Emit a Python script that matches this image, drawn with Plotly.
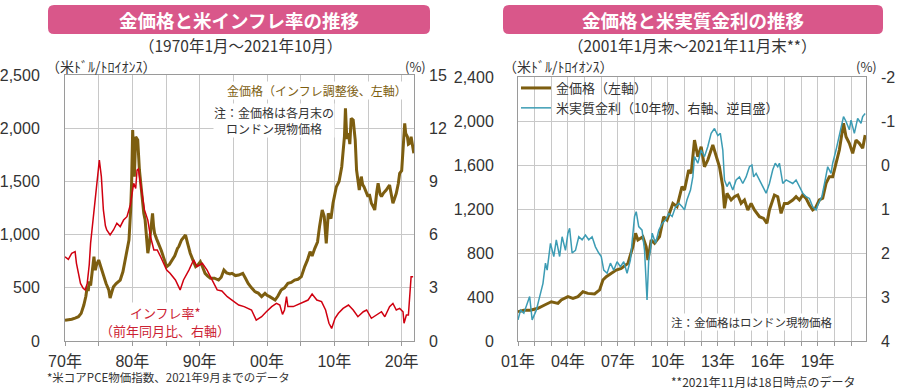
import plotly.graph_objects as go

W, H = 900, 390

# ---------------- Left panel data ----------------
gold_real_year = [
    1970.0, 1970.5, 1971.0, 1971.5, 1972.0, 1972.4, 1972.8, 1973.1, 1973.3, 1973.45,
    1973.6, 1973.8, 1974.0, 1974.3, 1974.5, 1974.7, 1975.0, 1975.3, 1975.5, 1975.8,
    1976.1, 1976.5, 1976.7, 1977.0, 1977.2, 1977.6, 1978.2, 1978.6, 1978.9, 1979.3,
    1979.5, 1979.75, 1979.9, 1980.05, 1980.15, 1980.3, 1980.5, 1980.8, 1981.05, 1981.4,
    1981.7, 1981.9, 1982.3, 1982.5, 1982.7, 1982.9, 1983.0, 1983.15, 1983.3, 1983.6,
    1983.9, 1984.3, 1984.6, 1985.1, 1985.5, 1985.9, 1986.3, 1986.7, 1986.9, 1987.3,
    1987.9, 1988.2, 1988.6, 1989.0, 1989.4, 1989.8, 1990.1, 1990.4, 1990.8, 1991.2,
    1991.6, 1992.2, 1992.8, 1993.2, 1993.6, 1994.0, 1994.5, 1994.8, 1995.3, 1995.8,
    1996.2, 1996.4, 1996.8, 1997.2, 1997.7, 1998.2, 1998.7, 1999.2, 1999.7, 2000.0,
    2000.4, 2000.8, 2001.2, 2001.6, 2002.1, 2002.6, 2003.1, 2003.6, 2004.1, 2004.6,
    2005.1, 2005.6, 2006.0, 2006.4, 2006.7, 2007.1, 2007.5, 2007.8, 2008.2, 2008.5,
    2008.8, 2009.1, 2009.5, 2009.8, 2010.3, 2010.7, 2011.1, 2011.5, 2011.65, 2011.85,
    2012.1, 2012.3, 2012.5, 2012.8, 2013.1, 2013.3, 2013.5, 2013.7, 2014.0, 2014.2,
    2014.4, 2014.7, 2015.0, 2015.2, 2015.5, 2015.8, 2016.0, 2016.3, 2016.5, 2016.8,
    2017.0, 2017.3, 2017.7, 2018.2, 2018.5, 2018.7, 2018.9, 2019.2, 2019.5, 2019.7,
    2020.0, 2020.2, 2020.45, 2020.6, 2020.85, 2021.0, 2021.2, 2021.4, 2021.6, 2021.8,
]
gold_real_usd = [
    195, 198, 205, 215, 228, 260, 338, 420, 510, 470,
    560, 520, 640, 793, 667, 720, 761, 700, 667, 600,
    540, 480, 404, 470, 510, 540, 573, 650, 761, 880,
    949, 1231, 1500, 1983, 1700, 1545, 1920, 1889, 1607, 1357,
    1200, 1137, 825, 900, 1043, 1120, 1200, 1080, 1012, 960,
    918, 850, 793, 699, 720, 761, 800, 870, 887, 950,
    996, 920, 825, 760, 699, 720, 745, 700, 636, 610,
    589, 590, 573, 600, 667, 640, 630, 636, 615, 620,
    630, 636, 590, 542, 500, 464, 450, 417, 448, 430,
    417, 400, 385, 420, 480, 500, 542, 550, 573, 580,
    605, 699, 760, 840, 800, 871, 930, 1075, 1231, 1169,
    918, 1200, 1150, 1294, 1450, 1500, 1638, 1920, 2187, 1900,
    1952, 1850, 2093, 2077, 1889, 1607, 1500, 1419, 1545, 1470,
    1450, 1400, 1357, 1380, 1294, 1260, 1231, 1400, 1482, 1380,
    1357, 1390, 1419, 1466, 1380, 1294, 1330, 1388, 1480, 1576,
    1600, 1795, 2046, 1950, 1920, 1850, 1858, 1920, 1820, 1764,
]

infl_year = [
    1970.0, 1970.5, 1971.0, 1971.5, 1971.7, 1972.0, 1972.3, 1972.7, 1973.0, 1973.3,
    1973.6, 1973.8, 1974.3, 1974.75, 1975.1, 1975.4, 1975.7, 1976.0, 1976.2, 1976.7,
    1977.2, 1977.7, 1978.2, 1978.7, 1979.2, 1979.7, 1980.2, 1980.5, 1980.7, 1980.9,
    1981.3, 1981.8, 1982.3, 1982.7, 1983.2, 1983.7, 1984.2, 1984.6, 1985.1, 1985.6,
    1986.4, 1987.1, 1987.6, 1988.4, 1989.1, 1989.6, 1990.4, 1991.1, 1991.8, 1992.6,
    1993.3, 1994.1, 1994.8, 1995.8, 1996.6, 1997.7, 1998.4, 1999.2, 1999.9, 2000.7,
    2001.4, 2001.9, 2002.3, 2002.6, 2002.9, 2003.1, 2003.9, 2005.1, 2006.1, 2006.7,
    2007.4, 2008.1, 2008.7, 2009.2, 2009.6, 2010.1, 2010.6, 2011.3, 2012.1, 2012.8,
    2013.5, 2014.3, 2014.8, 2015.5, 2016.25, 2017.0, 2017.5, 2018.2, 2018.7, 2019.2,
    2019.7, 2020.2, 2020.35, 2020.7, 2021.0, 2021.25, 2021.4, 2021.7,
]
infl_pct = [
    4.75, 4.6, 4.95, 5.04, 4.38, 3.8, 3.25, 2.97, 2.88, 3.25,
    4.3, 5.51, 7.39, 9.27, 10.2, 9.27, 7.39, 6.5, 6.26, 5.98,
    6.26, 6.64, 6.45, 6.82, 7.01, 7.67, 8.89, 8.6, 9.64, 9.7,
    8.7, 7.39, 6.82, 5.88, 5.13, 5.13, 4.75, 4.38, 4.0, 3.82,
    3.44, 2.88, 3.44, 4.0, 4.57, 4.19, 4.38, 4.0, 3.44, 2.88,
    2.82, 2.5, 2.31, 2.03, 1.94, 1.75, 1.18, 1.37, 1.65, 1.94,
    2.12, 2.03, 1.5, 1.75, 2.5, 1.94, 1.94, 2.12, 2.31, 2.65,
    2.31, 2.22, 1.75, 1.0, 0.71, 1.28, 1.56, 1.84, 2.03, 1.75,
    1.37, 1.65, 1.75, 1.28, 1.47, 1.65, 1.37, 1.94, 2.12, 1.75,
    1.84, 1.65, 1.0, 1.47, 1.47, 3.25, 3.63, 3.63,
]

# ---------------- Right panel data ----------------
gold_year = [
    2001.0, 2001.35, 2001.75, 2002.2, 2002.6, 2003.0, 2003.4, 2003.6, 2004.0, 2004.3,
    2004.6, 2004.9, 2005.2, 2005.6, 2005.9, 2006.1, 2006.3, 2006.6, 2006.9, 2007.2,
    2007.6, 2007.9, 2008.06, 2008.2, 2008.5, 2008.7, 2008.8, 2009.0, 2009.2, 2009.5,
    2009.75, 2009.95, 2010.3, 2010.55, 2010.85, 2011.0, 2011.25, 2011.4, 2011.6, 2011.8,
    2012.0, 2012.2, 2012.4, 2012.7, 2012.9, 2013.1, 2013.3, 2013.4, 2013.55, 2013.8,
    2014.0, 2014.2, 2014.4, 2014.6, 2014.8, 2015.0, 2015.2, 2015.5, 2015.75, 2015.95,
    2016.1, 2016.4, 2016.6, 2016.8, 2017.0, 2017.2, 2017.5, 2017.7, 2017.9, 2018.1,
    2018.3, 2018.5, 2018.7, 2018.85, 2019.1, 2019.3, 2019.5, 2019.7, 2019.9, 2020.1,
    2020.3, 2020.55, 2020.7, 2020.9, 2021.1, 2021.3, 2021.5, 2021.7, 2021.85,
]
gold_usd = [
    266, 280, 280, 297, 327, 357, 342, 373, 403, 388,
    403, 448, 433, 427, 464, 555, 585, 615, 645, 660,
    706, 857, 979, 918, 948, 857, 736, 918, 888, 948,
    1130, 1100, 1251, 1221, 1403, 1373, 1554, 1524, 1827, 1675,
    1766, 1584, 1645, 1782, 1675, 1584, 1403, 1206, 1342, 1282,
    1312, 1327, 1251, 1282, 1191, 1251, 1191, 1130, 1115, 1070,
    1191, 1327, 1312, 1160, 1251, 1251, 1282, 1312, 1282, 1327,
    1297, 1236, 1191, 1206, 1282, 1297, 1433, 1494, 1494, 1615,
    1736, 1979, 1857, 1797, 1706, 1827, 1797, 1752, 1873,
]

rate_year = [
    2001.0, 2001.15, 2001.35, 2001.55, 2001.7, 2001.85, 2002.1, 2002.25, 2002.5, 2002.65,
    2002.75, 2002.95, 2003.15, 2003.3, 2003.5, 2003.65, 2003.85, 2004.0, 2004.1, 2004.25,
    2004.45, 2004.65, 2004.85, 2005.05, 2005.25, 2005.45, 2005.65, 2005.85, 2006.0, 2006.15,
    2006.35, 2006.55, 2006.75, 2006.95, 2007.15, 2007.35, 2007.55, 2007.75, 2007.85, 2008.0,
    2008.1, 2008.25, 2008.45, 2008.6, 2008.75, 2008.85, 2008.95, 2009.06, 2009.26, 2009.46,
    2009.66, 2009.86, 2010.06, 2010.26, 2010.46, 2010.66, 2010.86, 2011.0, 2011.15, 2011.36,
    2011.5, 2011.6, 2011.8, 2012.0, 2012.2, 2012.4, 2012.6, 2012.8, 2013.0, 2013.15,
    2013.3, 2013.4, 2013.55, 2013.7, 2013.9, 2014.1, 2014.3, 2014.5, 2014.7, 2014.9,
    2015.05, 2015.15, 2015.3, 2015.5, 2015.7, 2015.9, 2016.1, 2016.3, 2016.45, 2016.6,
    2016.7, 2016.9, 2017.1, 2017.3, 2017.5, 2017.7, 2017.9, 2018.1, 2018.3, 2018.5,
    2018.7, 2018.9, 2019.05, 2019.25, 2019.45, 2019.6, 2019.8, 2019.9, 2020.1, 2020.3,
    2020.45, 2020.55, 2020.7, 2020.9, 2021.0, 2021.2, 2021.4, 2021.6, 2021.7, 2021.85,
]
rate_pct = [
    3.52, 3.3, 3.37, 3.14, 2.99, 3.52, 3.3, 3.07, 2.69, 2.23,
    2.39, 1.78, 2.08, 1.7, 2.08, 1.63, 1.94, 1.55, 1.44, 2.0,
    1.94, 1.63, 1.7, 1.59, 1.7, 1.63, 1.86, 2.0, 2.08, 2.39,
    2.46, 2.23, 2.39, 2.2, 2.31, 2.2, 2.46, 2.16, 1.78, 1.17,
    1.06, 1.4, 1.48, 1.94, 3.07, 2.16, 1.94, 1.55, 1.78, 1.48,
    1.33, 1.25, 1.1, 1.17, 0.95, 0.87, 0.95, 1.02, 0.79, 0.57,
    0.27, -0.19, -0.04, -0.34, -0.19, -0.42, -0.72, -0.83, -0.67, -0.72,
    -0.34, 0.34, 0.49, 0.38, 0.57, 0.34, 0.27, 0.42, 0.27, 0.04,
    0.0, 0.27, 0.19, 0.34, 0.49, 0.64, 0.42, 0.11, -0.04, 0.04,
    -0.04, 0.42, 0.34, 0.38, 0.42, 0.34, 0.49, 0.64, 0.72, 0.76,
    0.95, 1.02, 0.87, 0.72, 0.34, 0.04, 0.19, -0.04, -0.34, -0.65,
    -0.95, -1.1, -0.99, -0.8, -1.02, -0.72, -1.06, -0.95, -1.1, -1.17,
]

# ---------------- Tick labels ----------------
left_xtick_vals = [1970, 1975, 1980, 1985, 1990, 1995, 2000, 2005, 2010, 2015, 2020]
left_xtick_text = ["70年", "", "80年", "", "90年", "", "00年", "", "10年", "", "20年"]
right_xtick_vals = list(range(2001, 2022))
right_xtick_text = ["01年", "", "", "04年", "", "", "07年", "", "", "10年", "", "",
                    "13年", "", "", "16年", "", "", "19年", "", ""]
rate_tick_vals = [-2, -1, 0, 1, 2, 3, 4]
rate_tick_text = ["-2", "-1", "0", "1", "2", "3", "4"]

# ---------------- Styles ----------------
GOLD = "#7D5E10"
RED = "#D00010"
RED_TXT = "#CC2233"
TEAL = "#3C9CB4"
PINK = "#D9578A"
GRID = "#C8C8C8"
AXLINE = "#9A9A9A"
TXT = "#333333"
JP = "Noto Sans CJK JP"
NUM = "Liberation Sans, Noto Sans CJK JP"


def X(px):
    return px / W


def Y(py):
    return 1 - py / H


def rrect(x0, y0, x1, y1, r):
    return (f"M {X(x0 + r)},{Y(y0)} L {X(x1 - r)},{Y(y0)} "
            f"Q {X(x1)},{Y(y0)} {X(x1)},{Y(y0 + r)} L {X(x1)},{Y(y1 - r)} "
            f"Q {X(x1)},{Y(y1)} {X(x1 - r)},{Y(y1)} L {X(x0 + r)},{Y(y1)} "
            f"Q {X(x0)},{Y(y1)} {X(x0)},{Y(y1 - r)} L {X(x0)},{Y(y0 + r)} "
            f"Q {X(x0)},{Y(y0)} {X(x0 + r)},{Y(y0)} Z")


fig = go.Figure()

fig.add_trace(go.Scatter(x=gold_real_year, y=gold_real_usd, xaxis="x", yaxis="y",
                         mode="lines", line=dict(color=GOLD, width=3),
                         showlegend=False, name="金価格（インフレ調整後）"))
fig.add_trace(go.Scatter(x=infl_year, y=infl_pct, xaxis="x", yaxis="y2",
                         mode="lines", line=dict(color=RED, width=1.5),
                         showlegend=False, name="インフレ率"))
fig.add_trace(go.Scatter(x=gold_year, y=gold_usd, xaxis="x2", yaxis="y3",
                         mode="lines", line=dict(color=GOLD, width=3),
                         name="金価格（左軸）"))
fig.add_trace(go.Scatter(x=rate_year, y=rate_pct, xaxis="x2", yaxis="y4",
                         mode="lines", line=dict(color=TEAL, width=1.5),
                         name="米実質金利（10年物、右軸、逆目盛）"))

common_x = dict(showgrid=True, gridcolor=GRID, gridwidth=1, ticks="outside", ticklen=4,
                tickcolor=AXLINE, showline=True, linecolor=AXLINE, linewidth=1, mirror=True,
                zeroline=False, tickfont=dict(family=NUM, size=16, color=TXT),
                ticklabelstandoff=2)
common_y = dict(showgrid=True, gridcolor=GRID, gridwidth=1, ticks="", showline=True,
                linecolor=AXLINE, linewidth=1, mirror=True, zeroline=False,
                tickfont=dict(family=NUM, size=16, color=TXT), tickformat=",")

fig.update_layout(
    width=W, height=H, margin=dict(l=0, r=0, t=0, b=0, pad=0, autoexpand=False),
    paper_bgcolor="white", plot_bgcolor="white",
    font=dict(family=JP, color=TXT),
    xaxis=dict(domain=[X(65), X(414)], range=[1970, 2021.83], tickvals=left_xtick_vals,
               ticktext=left_xtick_text, anchor="y", **common_x),
    yaxis=dict(domain=[Y(341), Y(75)], range=[0, 2500], dtick=500, anchor="x",
               ticklabelstandoff=21, **common_y),
    yaxis2=dict(overlaying="y", side="right", anchor="x", range=[0, 15], dtick=3,
                showgrid=False, ticks="", zeroline=False, showline=False,
                ticklabelstandoff=14, tickfont=dict(family=NUM, size=16, color=TXT)),
    xaxis2=dict(domain=[X(518), X(866)], range=[2001, 2021.9], tickvals=right_xtick_vals,
                ticktext=right_xtick_text, anchor="y3", **common_x),
    yaxis3=dict(domain=[Y(341), Y(77)], range=[0, 2400], dtick=400, anchor="x2",
                ticklabelstandoff=20, **common_y),
    yaxis4=dict(overlaying="y3", side="right", anchor="x2", range=[4, -2],
                tickvals=rate_tick_vals, ticktext=rate_tick_text,
                showgrid=False, ticks="", zeroline=False, showline=False,
                ticklabelstandoff=14, tickfont=dict(family=NUM, size=16, color=TXT)),
    legend=dict(x=X(516), y=Y(73), xanchor="left", yanchor="top",
                bgcolor="rgba(0,0,0,0)",
                borderwidth=0, font=dict(family=JP, size=13, color=TXT),
                tracegroupgap=0, itemwidth=30),
    showlegend=True,
)

shapes = [
    dict(type="path", xref="paper", yref="paper", path=rrect(48, 5, 430, 34, 6),
         fillcolor=PINK, line=dict(width=0), layer="below"),
    dict(type="path", xref="paper", yref="paper", path=rrect(503, 5, 883, 34, 6),
         fillcolor=PINK, line=dict(width=0), layer="below"),
    # white panel behind the legend (hides gridlines, like the reference)
    dict(type="rect", xref="paper", yref="paper", x0=X(518.5), x1=X(784), y0=Y(117), y1=Y(77.5),
         fillcolor="white", line=dict(width=0), layer="between"),
]
fig.update_layout(shapes=shapes)


def ann(text, x, y, size, color=TXT, xanchor="center", bg=None, bold=False, family=JP, align="center"):
    d = dict(text=text, x=X(x), y=Y(y), xref="paper", yref="paper", showarrow=False,
             xanchor=xanchor, yanchor="middle", align=align,
             font=dict(family=family, size=size, color=color,
                       weight="bold" if bold else "normal"))
    if bg:
        d["bgcolor"] = bg
        d["borderpad"] = 0
    return d


annotations = [
    ann("金価格と米インフレ率の推移", 239, 20, 18.5, color="white", bold=True),
    ann("金価格と米実質金利の推移", 693, 20, 18.5, color="white", bold=True),
    ann("（1970年1月～2021年10月）", 240, 45, 15.5),
    ann("（2001年1月末～2021年11月末**）", 692, 45, 15.5),
    ann("（米ﾄﾞﾙ/ﾄﾛｲｵﾝｽ）", 44, 66, 14, xanchor="left"),
    ann("(%)", 415, 66, 13),
    ann("（米ﾄﾞﾙ/ﾄﾛｲｵﾝｽ）", 501, 66, 14, xanchor="left"),
    ann("(%)", 866, 66, 13),
    ann("金価格（インフレ調整後、左軸）", 317, 90, 12, color=GOLD, bg="white"),
    ann("注：金価格は各月末の<br>ロンドン現物価格", 274, 120, 12, bg="white"),
    ann("インフレ率*", 165, 312, 13, color=RED_TXT, bg="white"),
    ann("（前年同月比、右軸）", 165, 330, 13, color=RED_TXT, bg="white"),
    ann("注：金価格はロンドン現物価格", 751, 322, 11.5, bg="white"),
    ann("*米コアPCE物価指数、2021年9月までのデータ", 45, 377, 11.5, xanchor="left"),
    ann("**2021年11月は18日時点のデータ", 858, 381, 12, xanchor="right"),
]
fig.update_layout(annotations=annotations)

fig.write_html("out.html", config={"displayModeBar": False},
               post_script="document.body.style.margin='0px';")
